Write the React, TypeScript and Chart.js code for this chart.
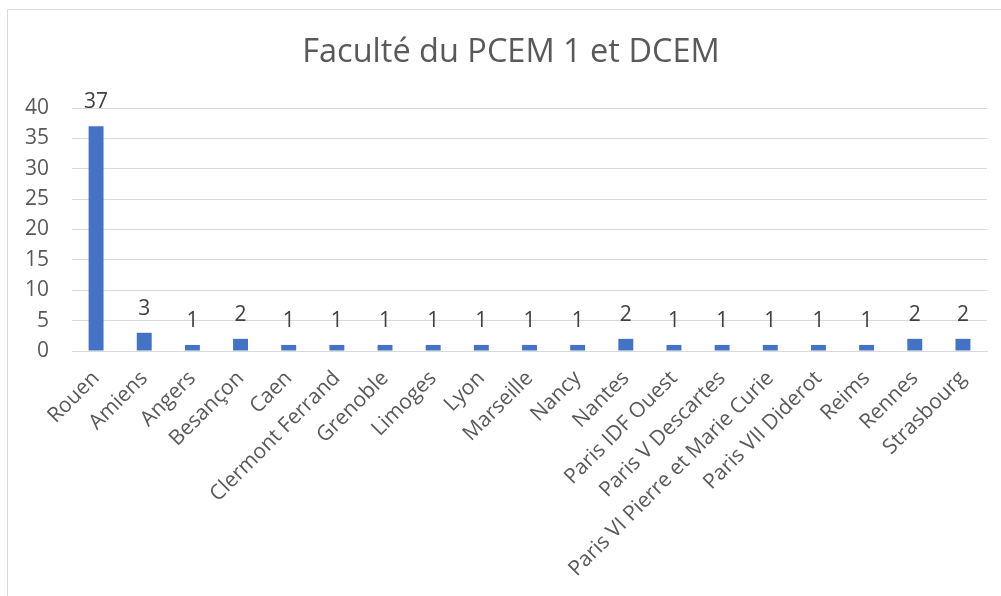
import React, { useEffect, useRef } from "react";
import { Chart, registerables } from "chart.js";

Chart.register(...registerables);

const TITLE = "Faculté du PCEM 1 et DCEM";
const categories = [
  "Rouen",
  "Amiens",
  "Angers",
  "Besançon",
  "Caen",
  "Clermont Ferrand",
  "Grenoble",
  "Limoges",
  "Lyon",
  "Marseille",
  "Nancy",
  "Nantes",
  "Paris IDF Ouest",
  "Paris V Descartes",
  "Paris VI Pierre et Marie Curie",
  "Paris VII Diderot",
  "Reims",
  "Rennes",
  "Strasbourg",
];
const values = [37, 3, 1, 2, 1, 1, 1, 1, 1, 1, 1, 2, 1, 1, 1, 1, 1, 2, 2];
const yTicks = [0, 5, 10, 15, 20, 25, 30, 35, 40];

const FONT = "'Open Sans', 'DejaVu Sans', sans-serif";

const framePlugin = {
  id: "frame",
  beforeDraw(chart: any) {
    const ctx = chart.ctx;
    ctx.save();
    ctx.fillStyle = "#ffffff";
    ctx.fillRect(0, 0, chart.width, chart.height);
    ctx.strokeStyle = "#d9d9d9";
    ctx.lineWidth = 1;
    ctx.beginPath();
    ctx.moveTo(7.5, chart.height + 5);
    ctx.lineTo(7.5, 9.5);
    ctx.lineTo(chart.width + 5, 9.5);
    ctx.stroke();
    ctx.restore();
  },
  afterDraw(chart: any) {
    const ctx = chart.ctx;
    ctx.save();
    ctx.fillStyle = "#595959";
    ctx.font = `32.5px ${FONT}`;
    ctx.textAlign = "center";
    ctx.textBaseline = "middle";
    ctx.fillText(TITLE, 511, 53);
    ctx.restore();
  },
};

const labelPlugin = {
  id: "valueLabels",
  afterDatasetsDraw(chart: any) {
    const ctx = chart.ctx;
    const meta = chart.getDatasetMeta(0);
    ctx.save();
    ctx.fillStyle = "#404040";
    ctx.font = `21px ${FONT}`;
    ctx.textAlign = "center";
    ctx.textBaseline = "alphabetic";
    meta.data.forEach((bar: any, i: number) => {
      ctx.fillText(String(values[i]), bar.x, bar.y - 18);
    });
    ctx.restore();
  },
};

export default function App() {
  const ref = useRef<HTMLCanvasElement>(null);
  useEffect(() => {
    if (!ref.current) return;
    const chart = new Chart(ref.current, {
      type: "bar",
      data: {
        labels: categories,
        datasets: [
          {
            data: values,
            backgroundColor: "#4472C4",
            barPercentage: 0.31,
            categoryPercentage: 1,
          },
        ],
      },
      options: {
        responsive: false,
        animation: false,
        events: [],
        layout: { padding: { top: 108, right: 14, left: 0, bottom: 0 } },
        plugins: {
          legend: { display: false },
          title: { display: false },
          tooltip: { enabled: false },
        },
        scales: {
          x: {
            grid: { display: false, drawTicks: false },
            border: { display: true, color: "#d9d9d9" },
            ticks: {
              autoSkip: false,
              maxRotation: 45,
              minRotation: 45,
              padding: 15,
              color: "#595959",
              font: { family: FONT, size: 21 },
            },
            afterFit(scale: any) {
              scale.height = 245;
            },
          },
          y: {
            min: 0,
            max: 40,
            afterBuildTicks(scale: any) {
              scale.ticks = yTicks.map((v) => ({ value: v }));
            },
            grid: { color: "#d9d9d9", drawTicks: false },
            border: { display: false },
            ticks: {
              padding: 23,
              color: "#595959",
              font: { family: FONT, size: 21 },
            },
            afterFit(scale: any) {
              scale.width = 72;
            },
          },
        },
      },
      plugins: [framePlugin, labelPlugin],
    });
    return () => chart.destroy();
  }, []);
  return (
    <div style={{ position: "absolute", left: 0, top: 0, width: 1001, height: 596 }}>
      <canvas ref={ref} width={1001} height={596} />
    </div>
  );
}
